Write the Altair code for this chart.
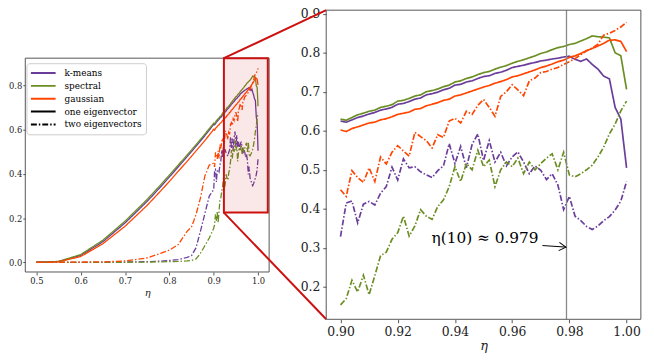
import altair as alt
import pandas as pd

# ---------------- data ----------------
METHODS = ["k-means", "spectral", "gaussian"]
KINDS = ["one eigenvector", "two eigenvectors"]
COLORS = ["#6a3d9a", "#6b8e23", "#ff4500"]

ETA_COARSE = [0.50, 0.55, 0.60, 0.65, 0.70, 0.75, 0.78, 0.80, 0.82, 0.84, 0.85, 0.86, 0.87, 0.88, 0.89]
ETA_FINE = [round(0.900 + 0.002 * i, 3) for i in range(51)]

KM_ONE_COARSE = [0.000, 0.003, 0.031, 0.093, 0.178, 0.276, 0.341, 0.386, 0.432, 0.478, 0.501, 0.525, 0.549, 0.573, 0.598]
SP_ONE_COARSE = [0.000, 0.004, 0.035, 0.100, 0.186, 0.285, 0.350, 0.395, 0.440, 0.486, 0.509, 0.532, 0.556, 0.580, 0.605]
GA_ONE_COARSE = [0.000, 0.002, 0.026, 0.084, 0.163, 0.258, 0.322, 0.366, 0.412, 0.457, 0.480, 0.504, 0.527, 0.551, 0.576]
KM_TWO_COARSE = [0.000, 0.000, 0.000, 0.000, 0.001, 0.003, 0.005, 0.008, 0.012, 0.022, 0.030, 0.065, 0.140, 0.220, 0.300]
SP_TWO_COARSE = [0.000, 0.000, 0.000, 0.000, 0.000, 0.001, 0.002, 0.003, 0.004, 0.006, 0.008, 0.015, 0.040, 0.075, 0.110]
GA_TWO_COARSE = [0.000, 0.000, 0.001, 0.002, 0.006, 0.020, 0.040, 0.055, 0.080, 0.140, 0.160, 0.215, 0.290, 0.390, 0.440]

KM_ONE_FINE = [0.625, 0.622, 0.628, 0.634, 0.638, 0.643, 0.647, 0.653, 0.656, 0.660,
               0.668, 0.670, 0.675, 0.681, 0.684, 0.692, 0.695, 0.699, 0.705, 0.709,
               0.717, 0.719, 0.725, 0.728, 0.734, 0.739, 0.741, 0.747, 0.750, 0.755,
               0.762, 0.765, 0.768, 0.772, 0.775, 0.779, 0.781, 0.784, 0.786, 0.789,
               0.791, 0.783, 0.778, 0.784, 0.770, 0.758, 0.740, 0.733, 0.660, 0.630, 0.505]
SP_ONE_FINE = [0.630, 0.627, 0.634, 0.641, 0.645, 0.650, 0.653, 0.660, 0.663, 0.667,
               0.676, 0.678, 0.683, 0.689, 0.692, 0.700, 0.703, 0.707, 0.713, 0.717,
               0.725, 0.728, 0.734, 0.738, 0.744, 0.749, 0.752, 0.758, 0.763, 0.767,
               0.773, 0.778, 0.782, 0.787, 0.792, 0.798, 0.802, 0.808, 0.813, 0.816,
               0.821, 0.824, 0.830, 0.836, 0.843, 0.841, 0.840, 0.838, 0.800, 0.792, 0.706]
GA_ONE_FINE = [0.602, 0.598, 0.606, 0.610, 0.615, 0.620, 0.622, 0.628, 0.631, 0.636,
               0.642, 0.645, 0.648, 0.655, 0.657, 0.664, 0.668, 0.672, 0.678, 0.681,
               0.689, 0.692, 0.697, 0.702, 0.707, 0.712, 0.716, 0.722, 0.726, 0.731,
               0.738, 0.741, 0.746, 0.751, 0.756, 0.762, 0.766, 0.771, 0.777, 0.781,
               0.788, 0.792, 0.798, 0.805, 0.811, 0.817, 0.824, 0.832, 0.833, 0.829, 0.803]
KM_TWO_FINE = [0.329, 0.415, 0.420, 0.364, 0.412, 0.419, 0.410, 0.440, 0.457, 0.507,
               0.474, 0.528, 0.505, 0.508, 0.495, 0.487, 0.480, 0.498, 0.510, 0.567,
               0.516, 0.560, 0.505, 0.565, 0.592, 0.524, 0.575, 0.520, 0.545, 0.510,
               0.533, 0.546, 0.520, 0.490, 0.510, 0.499, 0.475, 0.490, 0.461, 0.398,
               0.432, 0.381, 0.370, 0.355, 0.347, 0.356, 0.370, 0.380, 0.397, 0.420, 0.470]
SP_TWO_FINE = [0.154, 0.170, 0.217, 0.187, 0.230, 0.180, 0.229, 0.280, 0.289, 0.322,
               0.339, 0.381, 0.330, 0.356, 0.398, 0.381, 0.373, 0.406, 0.423, 0.457,
               0.508, 0.470, 0.516, 0.500, 0.550, 0.508, 0.525, 0.457, 0.500, 0.520,
               0.508, 0.530, 0.490, 0.520, 0.500, 0.516, 0.530, 0.541, 0.500, 0.545,
               0.487, 0.482, 0.490, 0.500, 0.512, 0.533, 0.558, 0.592, 0.617, 0.651, 0.676]
GA_TWO_FINE = [0.449, 0.432, 0.498, 0.480, 0.468, 0.505, 0.470, 0.533, 0.515, 0.545,
               0.562, 0.548, 0.535, 0.596, 0.585, 0.575, 0.556, 0.590, 0.583, 0.625,
               0.632, 0.620, 0.650, 0.642, 0.665, 0.680, 0.660, 0.637, 0.688, 0.700,
               0.718, 0.705, 0.690, 0.728, 0.735, 0.749, 0.752, 0.758, 0.762, 0.770,
               0.777, 0.785, 0.795, 0.805, 0.812, 0.822, 0.845, 0.850, 0.857, 0.866, 0.878]

SERIES = {
    ("k-means", "one eigenvector"): KM_ONE_COARSE + KM_ONE_FINE,
    ("spectral", "one eigenvector"): SP_ONE_COARSE + SP_ONE_FINE,
    ("gaussian", "one eigenvector"): GA_ONE_COARSE + GA_ONE_FINE,
    ("k-means", "two eigenvectors"): KM_TWO_COARSE + KM_TWO_FINE,
    ("spectral", "two eigenvectors"): SP_TWO_COARSE + SP_TWO_FINE,
    ("gaussian", "two eigenvectors"): GA_TWO_COARSE + GA_TWO_FINE,
}
ETA_ALL = ETA_COARSE + ETA_FINE

LEGEND_ENTRIES = METHODS + KINDS
LEGEND_COLORS = COLORS + ["black", "black"]
SOLID = [1, 0]
DASHDOT = [6, 2, 1.5, 2]
LEGEND_DASHES = [SOLID, SOLID, SOLID, SOLID, DASHDOT]

ETA_STAR = 0.979
ANNOT_TEXT = "η(10) ≈ 0.979"
ANNOT_POS = (0.9692, 0.325)
ARROW_FROM = (0.9706, 0.306)
ARROW_TO = (0.9788, 0.302)

# ---------------- layout ----------------
VIEW_W, VIEW_H = 646, 352
XDOM_L, YDOM_L = [0.475, 1.025], [-0.044, 0.924]
XDOM_R, YDOM_R = [0.895, 1.005], [0.117, 0.909]
XR_L, YR_L = [17.5, 264.4], [265.1, 48.6]
XR_R, YR_R = [322.2, 640.8], [313.0, 0.0]
ZOOM_X, ZOOM_Y = [0.923, 1.022], [0.225, 0.924]

FONT = "DejaVu Serif"
RED = "#cc1010"
FRAME = "#555555"

rows = []
for (m, k), vals in SERIES.items():
    for e, v in zip(ETA_ALL, vals):
        rows.append({"eta": e, "val": v, "method": m, "kind": k, "series": m + "|" + k})
df = pd.DataFrame(rows)

cscale = alt.Scale(domain=LEGEND_ENTRIES, range=LEGEND_COLORS)
dscale = alt.Scale(domain=LEGEND_ENTRIES, range=LEGEND_DASHES)

sx_l = alt.Scale(domain=XDOM_L, range=XR_L, nice=False, zero=False)
sy_l = alt.Scale(domain=YDOM_L, range=YR_L, nice=False, zero=False)
sx_r = alt.Scale(domain=XDOM_R, range=XR_R, nice=False, zero=False)
sy_r = alt.Scale(domain=YDOM_R, range=YR_R, nice=False, zero=False)

common_axis = dict(grid=False, domain=False, labelFont=FONT, labelColor="#222222",
                   tickColor=FRAME, titleFont=FONT, titleFontStyle="italic",
                   titleFontWeight="normal", titleColor="#222222")

ax_lx = alt.Axis(orient="bottom", offset=YR_L[0] - VIEW_H, values=[0.5, 0.6, 0.7, 0.8, 0.9, 1.0],
                 format=".1f", title="η", labelFontSize=8.5, tickSize=3, labelPadding=2,
                 titleFontSize=10, titlePadding=2, **common_axis)
ax_ly = alt.Axis(orient="left", offset=-XR_L[0], values=[0.0, 0.2, 0.4, 0.6, 0.8],
                 format=".1f", title=None, labelFontSize=8.5, tickSize=2.5, labelPadding=1,
                 **common_axis)
ax_rx = alt.Axis(orient="bottom", offset=YR_R[0] - VIEW_H, values=[0.90, 0.92, 0.94, 0.96, 0.98, 1.00],
                 format=".2f", title="η", labelFontSize=12.5, tickSize=3.5, labelPadding=3,
                 titleFontSize=13, titlePadding=2, **common_axis)
ax_ry = alt.Axis(orient="left", offset=-XR_R[0], values=[0.2, 0.3, 0.4, 0.5, 0.6, 0.7, 0.8, 0.9],
                 format=".1f", title=None, labelFontSize=12.5, tickSize=3.5, labelPadding=3,
                 **common_axis)

legend_def = alt.Legend(orient="none", legendX=18.7, legendY=53.7, title=None,
                        symbolType="stroke", symbolSize=625, symbolStrokeWidth=2,
                        labelFont=FONT, labelFontSize=9, labelColor="black", labelOffset=8,
                        clipHeight=12.9, rowPadding=0, padding=3.5,
                        strokeColor="#cccccc", fillColor="white", cornerRadius=3)

# ---------------- left panel ----------------
legend_df = pd.DataFrame({"entry": LEGEND_ENTRIES, "eta": [XDOM_L[0] + 0.03] * 5, "val": [0.0] * 5})
dummy = alt.Chart(legend_df).mark_line(strokeWidth=2).encode(
    x=alt.X("eta:Q", scale=sx_l, axis=ax_lx),
    y=alt.Y("val:Q", scale=sy_l, axis=ax_ly),
    color=alt.Color("entry:N", scale=cscale, legend=legend_def),
    strokeDash=alt.StrokeDash("entry:N", scale=dscale, legend=legend_def),
)

lines_l = alt.Chart(df).mark_line(strokeWidth=1.3).encode(
    x=alt.X("eta:Q"),
    y=alt.Y("val:Q"),
    color=alt.Color("method:N", scale=cscale, legend=None),
    strokeDash=alt.StrokeDash("kind:N", scale=dscale, legend=None),
    detail="series:N",
)

zoom_df = pd.DataFrame({"eta": [ZOOM_X[0]], "eta2": [ZOOM_X[1]], "val": [ZOOM_Y[0]], "val2": [ZOOM_Y[1]]})
zoom_fill = alt.Chart(zoom_df).mark_rect(color=RED, opacity=0.1).encode(
    x="eta:Q", x2="eta2:Q", y="val:Q", y2="val2:Q")
zoom_box = alt.Chart(zoom_df).mark_rect(fillOpacity=0, stroke=RED, strokeWidth=2).encode(
    x="eta:Q", x2="eta2:Q", y="val:Q", y2="val2:Q")

frame_l_df = pd.DataFrame({"eta": [XDOM_L[0]], "eta2": [XDOM_L[1]], "val": [YDOM_L[0]], "val2": [YDOM_L[1]]})
frame_l = alt.Chart(frame_l_df).mark_rect(fillOpacity=0, stroke=FRAME, strokeWidth=1).encode(
    x="eta:Q", x2="eta2:Q", y="val:Q", y2="val2:Q")

conn_top = alt.Chart(pd.DataFrame({"eta": [ZOOM_X[0]], "val": [ZOOM_Y[1]]})).mark_rule(
    color=RED, strokeWidth=2).encode(x="eta:Q", y="val:Q", x2=alt.value(XR_R[0]), y2=alt.value(YR_R[1]))
conn_bot = alt.Chart(pd.DataFrame({"eta": [ZOOM_X[0]], "val": [ZOOM_Y[0]]})).mark_rule(
    color=RED, strokeWidth=2).encode(x="eta:Q", y="val:Q", x2=alt.value(XR_R[0]), y2=alt.value(YR_R[0]))

left = alt.layer(dummy, lines_l, zoom_fill, frame_l, zoom_box, conn_top, conn_bot)

# ---------------- right panel ----------------
lines_r = alt.Chart(df).transform_filter(alt.datum.eta >= 0.8995).mark_line(strokeWidth=1.7).encode(
    x=alt.X("eta:Q", scale=sx_r, axis=ax_rx),
    y=alt.Y("val:Q", scale=sy_r, axis=ax_ry),
    color=alt.Color("method:N", scale=cscale, legend=None),
    strokeDash=alt.StrokeDash("kind:N", scale=dscale, legend=None),
    detail="series:N",
)

vline_df = pd.DataFrame({"eta": [ETA_STAR], "val": [YDOM_R[0]], "val2": [YDOM_R[1]]})
vline = alt.Chart(vline_df).mark_rule(color="#888888", strokeWidth=1.3).encode(
    x="eta:Q", y="val:Q", y2="val2:Q")

arrow_df = pd.DataFrame({"eta": [ARROW_FROM[0], ARROW_TO[0]], "val": [ARROW_FROM[1], ARROW_TO[1]], "o": [0, 1]})
arrow_line = alt.Chart(arrow_df).mark_line(color="black", strokeWidth=1).encode(
    x="eta:Q", y="val:Q", order="o:Q")
arrow_head = alt.Chart(pd.DataFrame({"eta": [ARROW_TO[0]], "val": [ARROW_TO[1]]})).mark_point(
    shape="M-1,-0.6L0,0L-1,0.6", filled=False, stroke="black", strokeWidth=1, opacity=1,
    size=196, angle=5).encode(x="eta:Q", y="val:Q")

annot = alt.Chart(pd.DataFrame({"eta": [ANNOT_POS[0]], "val": [ANNOT_POS[1]], "label": [ANNOT_TEXT]})).mark_text(
    align="right", baseline="middle", font=FONT, fontSize=15.5, color="black").encode(
    x="eta:Q", y="val:Q", text="label:N")

frame_r_df = pd.DataFrame({"eta": [XDOM_R[0]], "eta2": [XDOM_R[1]], "val": [YDOM_R[0]], "val2": [YDOM_R[1]]})
frame_r = alt.Chart(frame_r_df).mark_rect(fillOpacity=0, stroke=FRAME, strokeWidth=1).encode(
    x="eta:Q", x2="eta2:Q", y="val:Q", y2="val2:Q")

right = alt.layer(lines_r, vline, arrow_line, arrow_head, annot, frame_r)

chart = alt.layer(left, right).resolve_scale(
    x="independent", y="independent"
).resolve_axis(
    x="independent", y="independent"
).properties(
    width=VIEW_W, height=VIEW_H, padding=0,
    autosize=alt.AutoSizeParams(type="none"),
).configure_view(stroke=None)

chart.save("out.html", embed_options={"renderer": "svg", "actions": False})
